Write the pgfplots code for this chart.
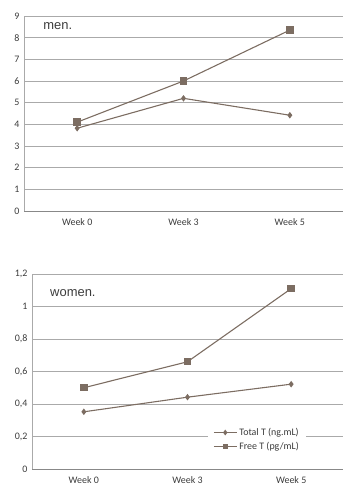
\documentclass[border=0pt]{standalone}
\usepackage{pgfplots}
\pgfplotsset{compat=1.18}
\usepackage{fontspec}
\setmainfont{Carlito}
\newfontfamily\arialf{Liberation Sans}
\definecolor{ln}{RGB}{124,109,98}
\definecolor{gridc}{RGB}{170,170,170}
\definecolor{txt}{RGB}{60,60,60}
\begin{document}
\begin{tikzpicture}
\path[use as bounding box] (0,0) rectangle (356bp,494bp);
\pgfplotsset{
  common/.style={
    scale only axis,
    anchor=south west,
    xmin=-0.5, xmax=2.5,
    xtick={0,1,2},
    xticklabels={Week 0,Week 3,Week 5},
    axis x line*=bottom,
    axis y line*=left,
    y axis line style={gridc, line width=0.6pt},
    ymajorgrids,
    major grid style={gridc, line width=0.6pt},
    x axis line style={gridc!80!black, line width=0.6pt},
    tick style={draw=none},
    ticklabel style={font=\fontsize{10}{12}\selectfont, text=txt},
    xticklabel style={yshift=-4bp},
    yticklabel style={xshift=-1bp},
    /pgf/number format/assume math mode=true,
    clip=false,
  },
  tot/.style={ln, line width=1.1pt, mark=diamond*, mark size=2.4pt, mark options={fill=ln, draw=ln}},
  fre/.style={ln, line width=1.1pt, mark=square*, mark size=3.2pt, mark options={fill=ln, draw=ln}},
}
% top: men
\begin{axis}[common,
  at={(24bp,283bp)}, width=319bp, height=195bp,
  ymin=0, ymax=9, ytick={0,1,...,9},
]
\addplot[tot] coordinates {(0,3.82) (1,5.2) (2,4.42)};
\addplot[fre] coordinates {(0,4.1) (1,6.0) (2,8.35)};
\node[anchor=west, inner sep=0pt, font=\arialf\fontsize{13}{15}\selectfont, text=txt] at (axis cs:-0.32,8.54) {men.};
\end{axis}
% bottom: women
\begin{axis}[common,
  at={(32bp,25bp)}, width=311bp, height=195bp,
  ymin=0, ymax=1.2, ytick={0,0.2,0.4,0.6,0.8,1,1.2},
  yticklabel style={/pgf/number format/.cd, use comma, fixed},
  legend style={at={(0.566,0.236)}, anchor=north west, draw=none, fill=white,
    font=\fontsize{10}{12}\selectfont, text=txt, row sep=1pt, inner xsep=5pt, inner ysep=3pt},
  legend cell align=left,
  legend image code/.code={
    \draw[#1, mark=none] (0bp,0bp) -- (23bp,0bp);
    \draw[#1, only marks, mark size=2pt] plot coordinates {(11.5bp,0bp)};
  },
]
\addplot[tot] coordinates {(0,0.352) (1,0.442) (2,0.522)};
\addplot[fre] coordinates {(0,0.5) (1,0.66) (2,1.11)};
\legend{Total T (ng.mL), Free T (pg/mL)}
\node[anchor=west, inner sep=0pt, font=\arialf\fontsize{13}{15}\selectfont, text=txt] at (axis cs:-0.326,1.083) {women.};
\end{axis}
\end{tikzpicture}
\end{document}
